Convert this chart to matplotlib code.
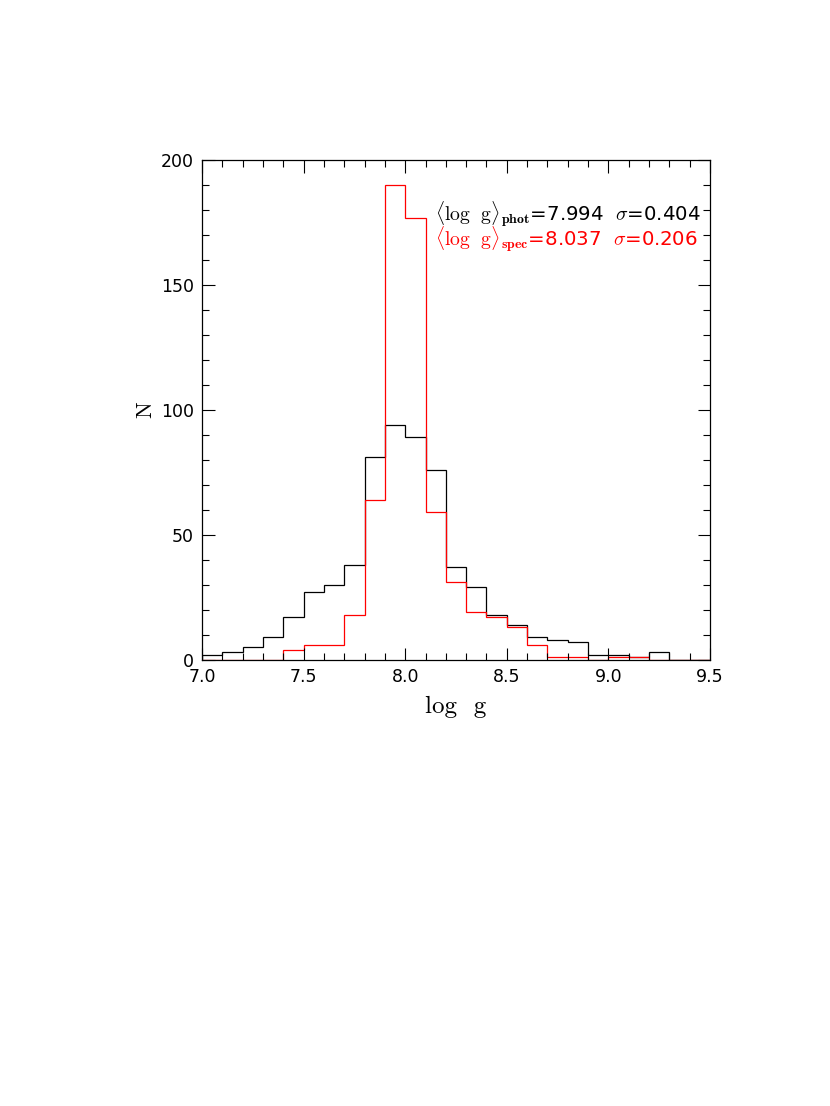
import numpy as np
import matplotlib
matplotlib.use('Agg')
import matplotlib.pyplot as plt
from matplotlib.ticker import MultipleLocator

plt.rcParams['font.family'] = ['DejaVu Sans']
plt.rcParams['mathtext.fontset'] = 'cm'

# bornes des classes en log g (pas de 0.1)
bords = np.round(np.arange(7.0, 9.55, 0.1), 1)

# histogramme photometrique (noir)
n_phot = [2, 3, 5, 9, 17, 27, 30, 38, 81, 94, 89, 76, 37,
          29, 18, 14, 9, 8, 7, 2, 2, 1, 3, 0, 0]
# histogramme spectroscopique (rouge)
n_spec = [0, 0, 0, 0, 4, 6, 6, 18, 64, 190, 177, 59, 31,
          19, 17, 13, 6, 1, 1, 0, 1, 1, 0, 0, 0]

fig = plt.figure(figsize=(8.3, 11.06), dpi=100)
ax = fig.add_axes([0.2434, 0.4033, 0.612, 0.452])

ax.stairs(n_phot, bords, color='black', linewidth=0.9, baseline=0)
ax.stairs(n_spec, bords, color='red', linewidth=0.9, baseline=0)

ax.set_xlim(7.0, 9.5)
ax.set_ylim(0, 200)
ax.xaxis.set_major_locator(MultipleLocator(0.5))
ax.xaxis.set_minor_locator(MultipleLocator(0.1))
ax.yaxis.set_major_locator(MultipleLocator(50))
ax.yaxis.set_minor_locator(MultipleLocator(10))
ax.xaxis.set_major_formatter(plt.FuncFormatter(lambda v, p: '{:.1f}'.format(v)))
ax.yaxis.set_major_formatter(plt.FuncFormatter(lambda v, p: '{:d}'.format(int(v))))
ax.tick_params(which='both', direction='in', top=True, right=True, width=0.8)
ax.tick_params(which='major', length=9, labelsize=12.5, pad=6)
ax.tick_params(which='minor', length=5)
for s in ax.spines.values():
    s.set_linewidth(0.9)

ax.set_xlabel('log  g', fontsize=18, labelpad=7, fontfamily='cmr10')
ax.set_ylabel('N', fontsize=16, labelpad=4, fontfamily='cmr10')

# valeurs moyennes
ax.text(8.147, 175.5, r'$\langle\mathrm{log\ \ g}\rangle_{\mathbf{phot}}$=7.994  $\sigma$=0.404',
        fontsize=14.2, color='black', va='baseline')
ax.text(8.147, 165.5, r'$\langle\mathrm{log\ \ g}\rangle_{\mathbf{spec}}$=8.037  $\sigma$=0.206',
        fontsize=14.2, color='red', va='baseline')

plt.savefig('out.png', dpi=100)
